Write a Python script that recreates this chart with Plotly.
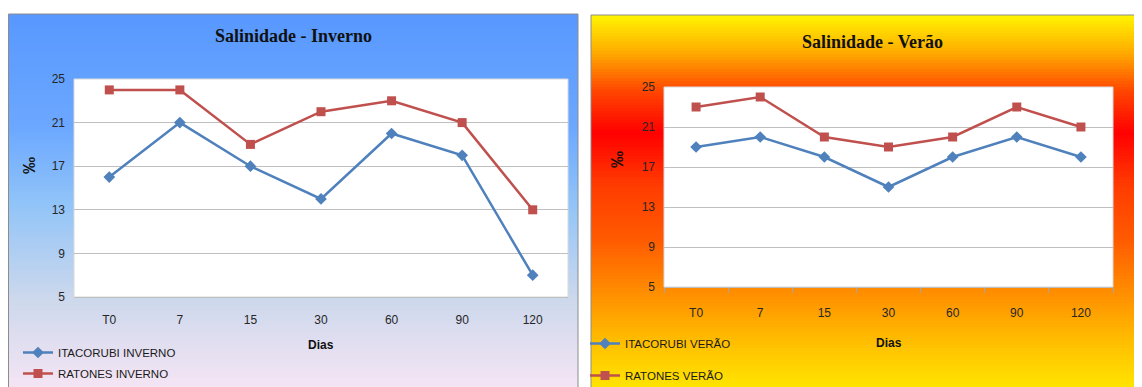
import plotly.graph_objects as go

# ---------------- data ----------------
categories = ["T0", "7", "15", "30", "60", "90", "120"]
itacorubi_inverno = [16, 21, 17, 14, 20, 18, 7]
ratones_inverno = [24, 24, 19, 22, 23, 21, 13]
itacorubi_verao = [19, 20, 18, 15, 18, 20, 18]
ratones_verao = [23, 24, 20, 19, 20, 23, 21]
y_ticks = [5, 9, 13, 17, 21, 25]

W, H = 1142, 387
OFF = 8  # page body margin: figure pixel (X, Y) shows at screen (X+8, Y+8)


def fx(x):  # screen x -> paper fraction
    return (x - OFF) / W


def fy(y):  # screen y -> paper fraction
    return 1 - (y - OFF) / H


def interp(stops, t):
    for i in range(len(stops) - 1):
        t0, c0 = stops[i]
        t1, c1 = stops[i + 1]
        if t0 <= t <= t1:
            f = 0 if t1 == t0 else (t - t0) / (t1 - t0)
            c = [round(c0[k] + (c1[k] - c0[k]) * f) for k in range(3)]
            return "rgb(%d,%d,%d)" % tuple(c)
    c = stops[-1][1]
    return "rgb(%d,%d,%d)" % tuple(c)


blue_stops = [
    (0.00, (88, 152, 255)),
    (0.30, (108, 168, 255)),
    (0.50, (145, 196, 248)),
    (0.75, (205, 216, 236)),
    (1.00, (248, 230, 245)),
]
sun_stops = [
    (0.00, (255, 245, 0)),
    (0.10, (255, 170, 0)),
    (0.20, (255, 70, 0)),
    (0.31, (255, 0, 0)),
    (0.45, (255, 60, 0)),
    (0.59, (255, 90, 0)),
    (0.74, (255, 145, 0)),
    (0.86, (255, 190, 0)),
    (1.00, (255, 235, 0)),
]

shapes = []


def gradient(x0, x1, y0, y1, stops, step=3):
    y = y0
    while y < y1:
        t = (y + step / 2 - y0) / (y1 - y0)
        shapes.append(dict(type="rect", xref="paper", yref="paper", layer="below",
                           x0=fx(x0), x1=fx(x1), y0=fy(min(y + step + 1, y1)), y1=fy(y),
                           fillcolor=interp(stops, min(t, 1)), line=dict(width=0)))
        y += step


gradient(6, 578, 14, 395, blue_stops)
gradient(591, 1150, 15, 395, sun_stops)
# panel borders
shapes.append(dict(type="rect", xref="paper", yref="paper", layer="below",
                   x0=fx(8.5), x1=fx(578), y0=fy(400), y1=fy(14),
                   fillcolor="rgba(0,0,0,0)", line=dict(color="#8C8C8C", width=1)))
shapes.append(dict(type="rect", xref="paper", yref="paper", layer="below",
                   x0=fx(591), x1=fx(1160), y0=fy(400), y1=fy(15),
                   fillcolor="rgba(0,0,0,0)", line=dict(color="#8C8C8C", width=1)))
# white plot areas
shapes.append(dict(type="rect", xref="paper", yref="paper", layer="below",
                   x0=fx(74), x1=fx(568), y0=fy(297), y1=fy(79),
                   fillcolor="white", line=dict(color="#D9D9D9", width=1)))
shapes.append(dict(type="rect", xref="paper", yref="paper", layer="below",
                   x0=fx(664), x1=fx(1113), y0=fy(287), y1=fy(87),
                   fillcolor="white", line=dict(color="#D9D9D9", width=1)))

BLUE = "#4F81BD"
RED = "#C0504D"
FONT = "Liberation Sans, Arial"

fig = go.Figure()
fig.add_trace(go.Scatter(x=categories, y=itacorubi_inverno, name="ITACORUBI INVERNO",
                         mode="lines+markers", line=dict(color=BLUE, width=2.5),
                         marker=dict(symbol="diamond", size=9, color=BLUE),
                         xaxis="x", yaxis="y", legend="legend", legendgroup="a"))
fig.add_trace(go.Scatter(x=categories, y=ratones_inverno, name="RATONES INVERNO",
                         mode="lines+markers", line=dict(color=RED, width=2.5),
                         marker=dict(symbol="square", size=9, color=RED),
                         xaxis="x", yaxis="y", legend="legend", legendgroup="b"))
fig.add_trace(go.Scatter(x=categories, y=itacorubi_verao, name="ITACORUBI VERÃO",
                         mode="lines+markers", line=dict(color=BLUE, width=2.5),
                         marker=dict(symbol="diamond", size=9, color=BLUE),
                         xaxis="x2", yaxis="y2", legend="legend2", legendgroup="c"))
fig.add_trace(go.Scatter(x=categories, y=ratones_verao, name="RATONES VERÃO",
                         mode="lines+markers", line=dict(color=RED, width=2.5),
                         marker=dict(symbol="square", size=9, color=RED),
                         xaxis="x2", yaxis="y2", legend="legend2", legendgroup="d"))

tickfont = dict(family=FONT, size=12, color="#262626")
xcommon = dict(type="category", range=[-0.5, 6.5], showgrid=False, showline=True,
               linecolor="#BFBFBF", linewidth=1, tickfont=tickfont, fixedrange=True,
               tickangle=0)
ycommon = dict(range=[5, 25], tickvals=y_ticks, showgrid=True, gridcolor="#BFBFBF",
               gridwidth=1, zeroline=False, showline=False, tickfont=tickfont,
               ticklabelstandoff=8, fixedrange=True)

legend_common = dict(bgcolor="rgba(0,0,0,0)", borderwidth=0, xanchor="left", yanchor="top",
                     traceorder="grouped", font=dict(family=FONT, size=11.5, color="#1a1a1a"),
                     itemclick=False, itemdoubleclick=False)


def ann(text, x, y, size, family, angle=0):
    return dict(text=text, x=fx(x), y=fy(y), xref="paper", yref="paper",
                xanchor="center", yanchor="middle", textangle=angle, showarrow=False,
                font=dict(family=family, size=size, color="#111"))


SERIF = "Liberation Serif, Times New Roman"
annotations = [
    ann("<b>Salinidade - Inverno</b>", 293, 36, 18, SERIF),
    ann("<b>Salinidade - Verão</b>", 872, 42, 18, SERIF),
    ann("<b>Dias</b>", 321, 345, 12, FONT),
    ann("<b>Dias</b>", 889, 343, 12, FONT),
    ann("<b>‰</b>", 29, 166, 17, FONT, -90),
    ann("<b>‰</b>", 618, 160, 17, FONT, -90),
]

fig.update_layout(
    width=W, height=H, margin=dict(l=0, r=0, t=0, b=0, autoexpand=False),
    paper_bgcolor="white", plot_bgcolor="rgba(0,0,0,0)",
    shapes=shapes, annotations=annotations,
    xaxis=dict(domain=[fx(74), fx(568)], anchor="y", ticks="", ticklabelstandoff=12, **xcommon),
    yaxis=dict(domain=[fy(297), fy(79)], anchor="x", **ycommon),
    xaxis2=dict(domain=[fx(664), fx(1113)], anchor="y2", ticks="outside", tickson="boundaries",
                ticklen=5, tickcolor="#A6A6A6", ticklabelstandoff=15, **xcommon),
    yaxis2=dict(domain=[fy(287), fy(87)], anchor="x2", **ycommon),
    legend=dict(x=fx(18), y=fy(338), tracegroupgap=2, **legend_common),
    legend2=dict(x=fx(585), y=fy(329), tracegroupgap=13, **legend_common),
    showlegend=True,
)

fig.write_html("out.html")
